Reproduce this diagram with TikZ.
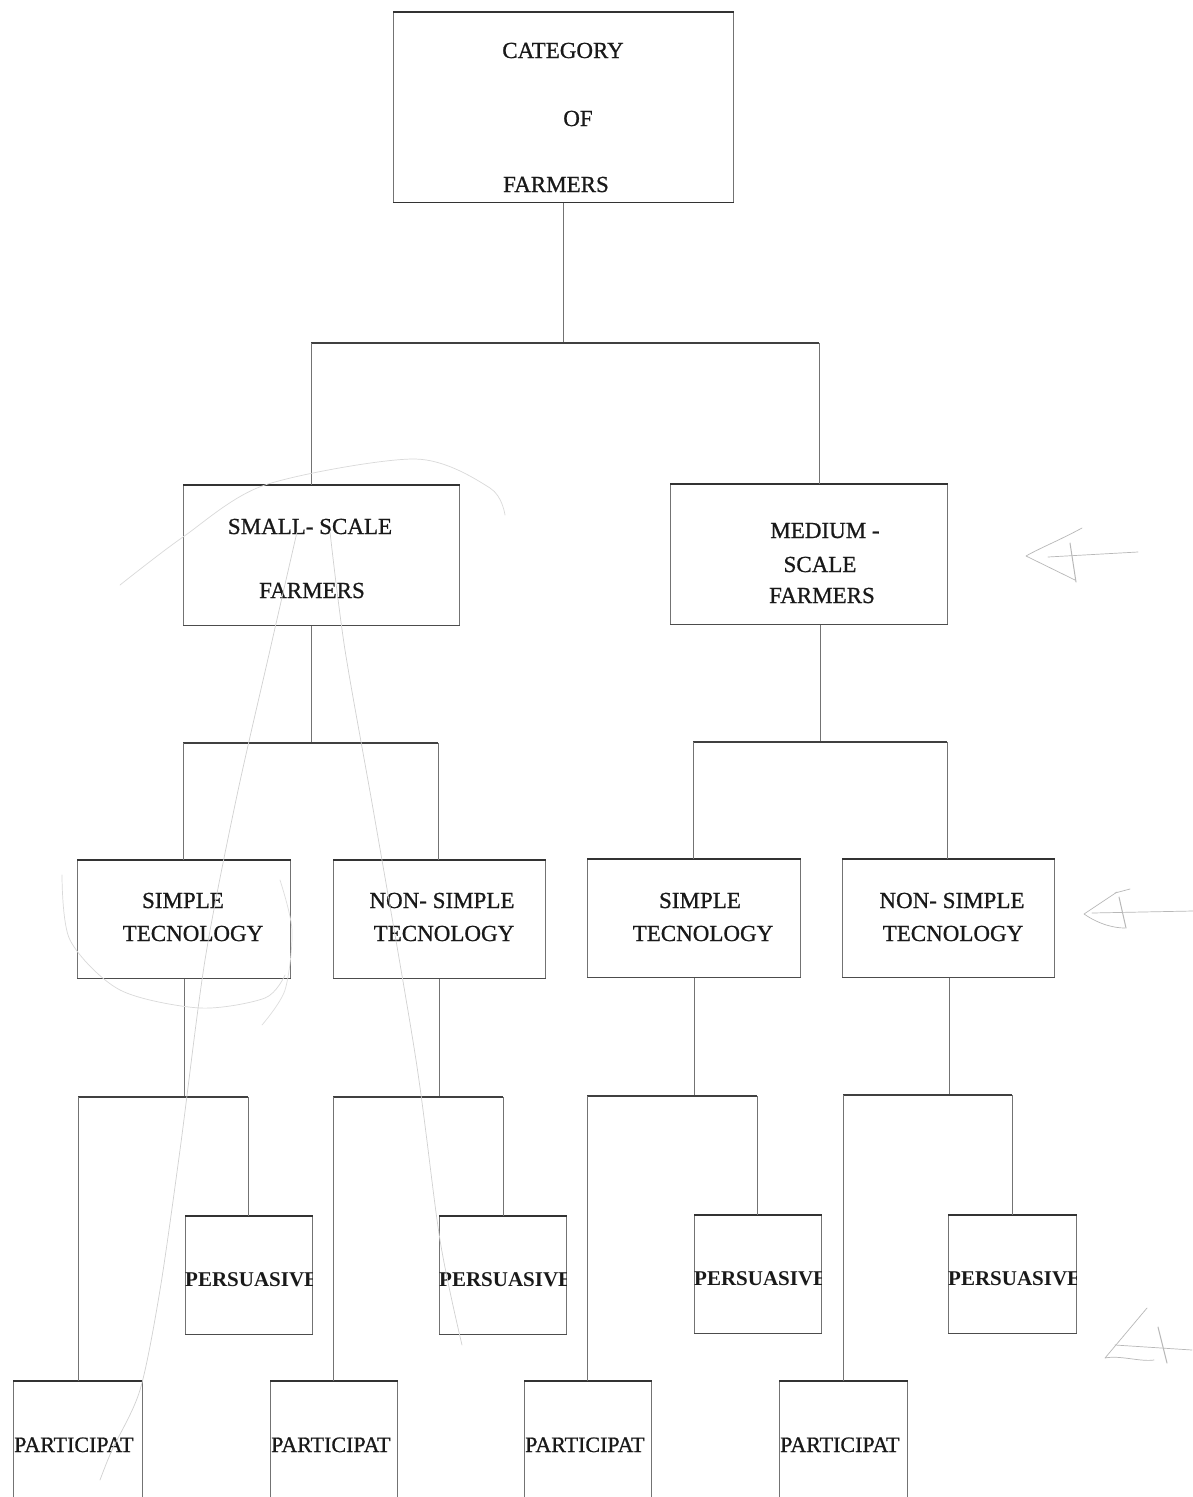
\documentclass[tikz,border=0pt]{standalone}
\usepackage{fontspec}
\setmainfont{Liberation Serif}
\newfontfamily\labelfont[FakeBold=0.8]{Liberation Serif}
\begin{document}
\begin{tikzpicture}[x=1pt,y=-1pt,
  box/.style={draw=black!55,line width=0.8pt,rectangle,inner sep=0pt,anchor=north west},
  topedge/.style={draw=black!80,line width=1.3pt},
  link/.style={draw=black!55,line width=0.8pt},
  bar/.style={draw=black!75,line width=1.1pt},
  big/.style={font=\labelfont\fontsize{23}{26}\selectfont,text=black!90,anchor=base,inner sep=0pt},
  small/.style={font=\labelfont\fontsize{22}{24}\selectfont,text=black!90,anchor=base west,inner sep=0pt},
  pencil/.style={draw=black!28,line width=0.7pt,line cap=round,line join=round}]
\useasboundingbox (0,0) rectangle (1193,1497);
\clip (0,0) rectangle (1193,1497);
\fill[white] (0,0) rectangle (1193,1497);

% ---------- boxes ----------
\node[box,minimum width=340pt,minimum height=190pt] (top) at (393,12) {};
\node[box,minimum width=276pt,minimum height=140pt] (sm) at (183,485) {};
\node[box,minimum width=277pt,minimum height=140pt] (md) at (670,484) {};
\node[box,minimum width=213pt,minimum height=118pt] (s1) at (77,860) {};
\node[box,minimum width=212pt,minimum height=118pt] (n1) at (333,860) {};
\node[box,minimum width=213pt,minimum height=118pt] (s2) at (587,859) {};
\node[box,minimum width=212pt,minimum height=118pt] (n2) at (842,859) {};
\node[box,minimum width=127pt,minimum height=118pt] (p1) at (185,1216) {};
\node[box,minimum width=127pt,minimum height=118pt] (p2) at (439,1216) {};
\node[box,minimum width=127pt,minimum height=118pt] (p3) at (694,1215) {};
\node[box,minimum width=128pt,minimum height=118pt] (p4) at (948,1215) {};
\node[box,minimum width=129pt,minimum height=130pt] (q1) at (13,1381) {};
\node[box,minimum width=127pt,minimum height=130pt] (q2) at (270,1381) {};
\node[box,minimum width=127pt,minimum height=130pt] (q3) at (524,1381) {};
\node[box,minimum width=128pt,minimum height=130pt] (q4) at (779,1381) {};

% darker top and bottom edges of the boxes
\foreach \b in {top,sm,md,s1,n1,s2,n2,p1,p2,p3,p4,q1,q2,q3,q4}
  \draw[topedge] (\b.north west) -- (\b.north east);
\draw[topedge] (top.south west) -- (top.south east);
\foreach \b in {sm,md,s1,n1,s2,n2,p1,p2,p3,p4}
  \draw[draw=black!70,line width=1pt] (\b.south west) -- (\b.south east);

% ---------- labels ----------
\node[big] (t1) at (563,58) {CATEGORY};
\node[big] (t2) at (578,126) {OF};
\node[big] (t3) at (556,192) {FARMERS};

\node[big] (sm1) at (310,534) {SMALL- SCALE};
\node[big] (sm2) at (312,598) {FARMERS};

\node[big] (md1) at (825,538) {MEDIUM -};
\node[big] (md2) at (820,572) {SCALE};
\node[big] (md3) at (822,603) {FARMERS};

\node[big] (s1a) at (183,908) {SIMPLE};
\node[big] (s1b) at (193,941) {TECNOLOGY};
\node[big] (n1a) at (442,908) {NON- SIMPLE};
\node[big] (n1b) at (444,941) {TECNOLOGY};
\node[big] (s2a) at (700,908) {SIMPLE};
\node[big] (s2b) at (703,941) {TECNOLOGY};
\node[big] (n2a) at (952,908) {NON- SIMPLE};
\node[big] (n2b) at (953,941) {TECNOLOGY};

% bottom labels are cut by their boxes
\foreach \b in {p1,p2,p3,p4}{
  \begin{scope}
    \clip (\b.north west) rectangle (\b.south east);
    \node[small,font=\bfseries\fontsize{21}{24}\selectfont] (\b txt) at ([yshift=-70pt]\b.north west) {PERSUASIVE};
  \end{scope}}
\foreach \b in {q1,q2,q3,q4}{
  \begin{scope}
    \clip (\b.north west) rectangle (\b.south east);
    \node[small,xshift=1pt] (\b txt) at ([yshift=-71pt]\b.north west) {PARTICIPAT};
  \end{scope}}

% ---------- connectors ----------
% category -> scale groups
\coordinate (j0) at (563,343);
\coordinate (l0) at (311,343);
\coordinate (r0) at (819,343);
\draw[link] (top.south -| j0) -- (j0);
\draw[bar] (l0) -- (r0);
\draw[link] (l0) -- (l0 |- sm.north);
\draw[link] (r0) -- (r0 |- md.north);

% small-scale -> technologies
\coordinate (j1) at (311,743);
\coordinate (l1) at (183,743);
\coordinate (r1) at (438,743);
\draw[link] (sm.south -| j1) -- (j1);
\draw[bar] (l1) -- (r1);
\draw[link] (l1) -- (l1 |- s1.north);
\draw[link] (r1) -- (r1 |- n1.north);

% medium-scale -> technologies
\coordinate (j2) at (820,742);
\coordinate (l2) at (693,742);
\coordinate (r2) at (947,742);
\draw[link] (md.south -| j2) -- (j2);
\draw[bar] (l2) -- (r2);
\draw[link] (l2) -- (l2 |- s2.north);
\draw[link] (r2) -- (r2 |- n2.north);

% technologies -> approaches
\coordinate (j3) at (184,1097);
\coordinate (l3) at (78,1097);
\coordinate (r3) at (248,1097);
\draw[link] (s1.south -| j3) -- (j3);
\draw[bar] (l3) -- (r3);
\draw[link] (l3) -- (l3 |- q1.north);
\draw[link] (r3) -- (r3 |- p1.north);

\coordinate (j4) at (439,1097);
\coordinate (l4) at (333,1097);
\coordinate (r4) at (503,1097);
\draw[link] (n1.south -| j4) -- (j4);
\draw[bar] (l4) -- (r4);
\draw[link] (l4) -- (l4 |- q2.north);
\draw[link] (r4) -- (r4 |- p2.north);

\coordinate (j5) at (694,1096);
\coordinate (l5) at (587,1096);
\coordinate (r5) at (757,1096);
\draw[link] (s2.south -| j5) -- (j5);
\draw[bar] (l5) -- (r5);
\draw[link] (l5) -- (l5 |- q3.north);
\draw[link] (r5) -- (r5 |- p3.north);

\coordinate (j6) at (949,1095);
\coordinate (l6) at (843,1095);
\coordinate (r6) at (1012,1095);
\draw[link] (n2.south -| j6) -- (j6);
\draw[bar] (l6) -- (r6);
\draw[link] (l6) -- (l6 |- q4.north);
\draw[link] (r6) -- (r6 |- p4.north);

% ---------- pencil marks ----------
\draw[pencil,draw=black!18] plot[smooth] coordinates {(297,532) (270,650) (236,800) (205,960) (180,1150) (160,1290) (140,1390) (112,1450) (100,1480)};
\draw[pencil,draw=black!18] plot[smooth] coordinates {(330,532) (345,650) (375,820) (416,1060) (440,1240) (462,1345)};
\draw[pencil,draw=black!15] plot[smooth] coordinates {(120,585) (183,537) (265,485) (415,459) (490,488) (505,515)};
\draw[pencil,draw=black!15] plot[smooth] coordinates {(62,875) (70,940) (120,990) (200,1008) (265,998) (285,975)};
\draw[pencil,draw=black!13] plot[smooth] coordinates {(280,880) (292,930) (285,990) (262,1025)};

% arrow marks on the right
\draw[pencil] (1048,557) -- (1138,552);
\draw[pencil] (1082,528) .. controls (1060,540) and (1040,548) .. (1026,556) -- (1075,580);
\draw[pencil,line width=1pt] (1070,543) -- (1076,582);

\draw[pencil] (1092,913) -- (1193,911);
\draw[pencil] (1117,892) -- (1084,914) .. controls (1100,925) and (1115,928) .. (1125,928);
\draw[pencil,line width=1pt] (1119,897) -- (1126,928);
\draw[pencil] (1115,893) -- (1130,889);

\draw[pencil] (1147,1308) -- (1105,1358) .. controls (1120,1355) and (1140,1362) .. (1154,1360);
\draw[pencil] (1115,1345) -- (1192,1350);
\draw[pencil,line width=1pt] (1158,1327) -- (1167,1363);
\end{tikzpicture}
\end{document}
